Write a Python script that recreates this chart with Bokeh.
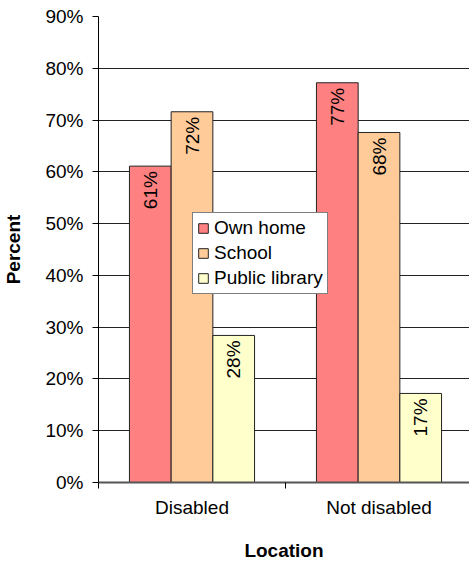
import math
from bokeh.plotting import figure
from bokeh.models import (Range1d, FixedTicker, PrintfTickFormatter, CustomJSTickFormatter,
                          ColumnDataSource, Legend, LegendItem)
from bokeh.core.properties import value
from bokeh.embed import file_html
from bokeh.resources import INLINE

categories = ["Disabled", "Not disabled"]
series = ["Own home", "School", "Public library"]
own_home = [61.1, 77.2]
school = [71.6, 67.6]
public_library = [28.4, 17.2]
colors = ["#FF8080", "#FFCC99", "#FFFFCC"]
y_ticks = [0, 10, 20, 30, 40, 50, 60, 70, 80, 90]

FONT = "Liberation Sans"
FS = "19px"
bar_w = 0.223

p = figure(frame_width=371, frame_height=466, output_backend="svg", toolbar_location=None,
           x_range=Range1d(0, 371 / 187), y_range=Range1d(0, 90),
           min_border_left=90, min_border_right=0, min_border_top=16, min_border_bottom=70)
p.outline_line_color = None
p.background_fill_color = "white"

renderers = []
for j, (name, vals) in enumerate(zip(series, [own_home, school, public_library])):
    xs = [i + 0.5 + (j - 1) * bar_w for i in range(len(categories))]
    src = ColumnDataSource(dict(x=xs, top=vals, lbl=["%d%%" % round(v) for v in vals]))
    r = p.vbar(x="x", top="top", bottom=0, width=bar_w, source=src,
               fill_color=colors[j], line_color="#222222", line_width=1)
    renderers.append((name, r))
    p.text(x="x", y="top", text="lbl", source=src, angle=math.pi / 2,
           text_align="right", text_baseline="middle", y_offset=5,
           text_font=value(FONT), text_font_size=FS, text_color="black")

# y axis
p.yaxis.ticker = FixedTicker(ticks=y_ticks)
p.yaxis.formatter = PrintfTickFormatter(format="%d%%")
p.yaxis.major_tick_out = 6
p.yaxis.major_tick_in = 0
p.yaxis.minor_tick_line_color = None
p.yaxis.major_label_standoff = 9
p.yaxis.major_label_text_font = FONT
p.yaxis.major_label_text_font_size = FS
p.yaxis.major_label_text_color = "black"
p.yaxis.axis_line_color = "black"
p.yaxis.axis_label = "Percent"
p.yaxis.axis_label_text_font = FONT
p.yaxis.axis_label_text_font_size = FS
p.yaxis.axis_label_text_font_style = "bold"
p.yaxis.axis_label_text_color = "black"
p.yaxis.axis_label_standoff = 18

# x axis
p.xaxis.ticker = FixedTicker(ticks=[i + 0.5 for i in range(len(categories))],
                             minor_ticks=list(range(len(categories) + 1)))
p.xaxis.formatter = CustomJSTickFormatter(args=dict(labels=categories),
                                          code="return labels[Math.floor(tick)];")
p.xaxis.major_tick_out = 0
p.xaxis.major_tick_in = 0
p.xaxis.minor_tick_out = 6
p.xaxis.minor_tick_in = 0
p.xaxis.minor_tick_line_color = "black"
p.xaxis.major_label_standoff = 8
p.xaxis.major_label_text_font = FONT
p.xaxis.major_label_text_font_size = FS
p.xaxis.major_label_text_color = "black"
p.xaxis.axis_line_color = "#555555"
p.xaxis.axis_line_width = 2
p.xaxis.axis_label = "Location"
p.xaxis.axis_label_text_font = FONT
p.xaxis.axis_label_text_font_size = FS
p.xaxis.axis_label_text_font_style = "bold"
p.xaxis.axis_label_text_color = "black"
p.xaxis.axis_label_standoff = 19

p.xgrid.grid_line_color = None
p.ygrid.ticker = FixedTicker(ticks=y_ticks)
p.ygrid.grid_line_color = "#222222"
p.ygrid.grid_line_width = 1

legend = Legend(items=[LegendItem(label=n, renderers=[r]) for n, r in renderers],
                location=(94, 188), orientation="vertical",
                label_text_font=FONT, label_text_font_size=FS, label_text_color="black",
                glyph_width=12, glyph_height=12, label_standoff=5, label_height=20,
                spacing=3, padding=4, margin=0,
                border_line_color="black", border_line_width=1,
                background_fill_color="white", background_fill_alpha=1)
p.add_layout(legend, "center")

open("out.html", "w").write(file_html(p, INLINE))
